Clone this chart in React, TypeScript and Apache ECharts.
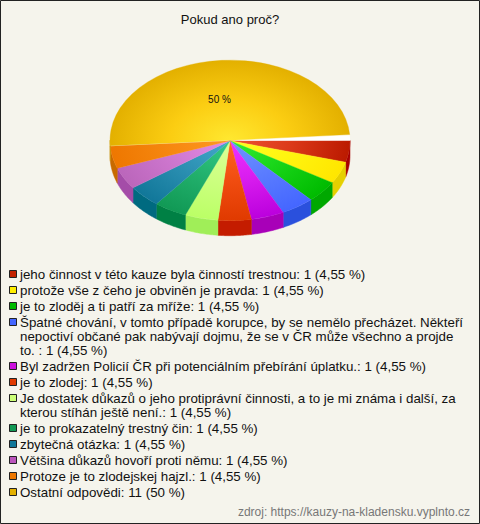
import React, { useEffect, useRef } from "react";
import * as echarts from "echarts";

const title = "Pokud ano proč?";
const source = "zdroj: https://kauzy-na-kladensku.vyplnto.cz";
const labels = [
  "jeho činnost v této kauze byla činností trestnou: 1 (4,55 %)",
  "protože vše z čeho je obviněn je pravda: 1 (4,55 %)",
  "je to zloděj a ti patří za mříže: 1 (4,55 %)",
  "Špatné chování, v tomto případě korupce, by se nemělo přecházet. Někteří\nnepoctiví občané pak nabývají dojmu, že se v ČR může všechno a projde\nto. : 1 (4,55 %)",
  "Byl zadržen Policií ČR při potenciálním přebírání úplatku.: 1 (4,55 %)",
  "je to zlodej: 1 (4,55 %)",
  "Je dostatek důkazů o jeho protiprávní činnosti, a to je mi známa i další, za\nkterou stíhán ještě není.: 1 (4,55 %)",
  "je to prokazatelný trestný čin: 1 (4,55 %)",
  "zbytečná otázka: 1 (4,55 %)",
  "Většina důkazů hovoří proti němu: 1 (4,55 %)",
  "Protoze je to zlodejskej hajzl.: 1 (4,55 %)",
  "Ostatní odpovědi: 11 (50 %)",
];
const values = [1, 1, 1, 1, 1, 1, 1, 1, 1, 1, 1, 11];
const inner = ["#ee5533", "#ffff22", "#33ee33", "#6f94ff", "#ee33ff", "#ff6622", "#ddff99", "#33cc88", "#44aacc", "#e48ce8", "#ff9922", "#ffe830"];
const middle = ["#dc3a1a", "#fff510", "#18d418", "#5a7cff", "#d81cee", "#f04c10", "#ccff80", "#22b06c", "#2c90b2", "#cf78d0", "#f68810", "#fbcd12"];
const outer = ["#bb1a00", "#ffe600", "#00bb00", "#4466ff", "#bb00dd", "#e03a00", "#bbff66", "#119955", "#117799", "#bb66bb", "#ee7700", "#e3b000"];
const sides = ["#a80000", "#e6d000", "#00a800", "#2a50dd", "#a800b8", "#c41c00", "#a0ee58", "#008044", "#006a80", "#a44ca8", "#c86a00", "#c89800"];
const legendFill = ["#c42200", "#ffee00", "#00bb00", "#4466ff", "#cc11dd", "#e03a00", "#ccff77", "#119955", "#117799", "#bb55bb", "#ee7700", "#e3b000"];

const cx = 230;
const cy = 140.7;
const rx = 120;
const ry = 80;
const depth = 15;
const startDeg = -0.5;
const gapDeg = 3.5;
const total = values.reduce((a, b) => a + b, 0);
const bigIndex = values.indexOf(Math.max(...values));

function sweep(i: number) {
  const full = (values[i] / total) * 360;
  return i === bigIndex ? full : full * (1 - gapDeg / 180);
}
function startOf(i: number) {
  let a = startDeg;
  for (let k = 0; k < i; k++) a += sweep(k);
  return a;
}
const rad = (d: number) => (d * Math.PI) / 180;

function renderSlice(i: number) {
  const from = startOf(i);
  const to = from + sweep(i);
  const a0 = Math.max(from, 0);
  const a1 = Math.min(to, 180);
  const children: any[] = [];
  const isBig = i === bigIndex;
  const oy = isBig ? -0.5 : 0;
  if (a1 > a0) {
    const top: number[][] = [];
    const bottom: number[][] = [];
    for (let a = a0; a <= a1 + 1e-6; a += (a1 - a0) / 24) {
      const px = cx + rx * Math.cos(rad(a));
      const py = cy + oy + ry * Math.sin(rad(a));
      top.push([px, py]);
      bottom.unshift([px, py + depth]);
    }
    children.push({
      type: "polygon",
      shape: { points: top.concat(bottom) },
      style: { fill: sides[i], stroke: sides[i], lineWidth: 0.5 },
    });
  }
  const grad = new echarts.graphic.RadialGradient(
    0, 0, rx,
    [
      { offset: 0, color: inner[i] },
      { offset: 0.5, color: middle[i] },
      { offset: 1, color: outer[i] },
    ],
    true
  );
  if (isBig) {
    children.push({
      type: "sector",
      x: cx,
      y: cy,
      scaleY: ry / rx,
      shape: { cx: 0, cy: 0, r: rx, r0: 0, startAngle: rad(to - 0.5), endAngle: rad(360 + startDeg + 0.5), clockwise: true },
      style: { fill: "#ffffff" },
    });
  }
  children.push({
    type: "sector",
    x: cx,
    y: cy + oy,
    scaleY: ry / rx,
    shape: { cx: 0, cy: 0, r: rx, r0: 0, startAngle: rad(from), endAngle: rad(to), clockwise: true },
    style: { fill: grad, stroke: grad, lineWidth: 0.4 },
  });
  if (isBig) {
    children.push({
      type: "text",
      style: {
        x: 219.5,
        y: 99.5,
        text: "50 %",
        fill: "#111111",
        font: "10px 'Liberation Sans'",
        align: "center",
        verticalAlign: "middle",
      },
    });
  }
  return { type: "group", children };
}

function legendGraphics() {
  const out: any[] = [];
  let y = 267;
  const rowGap = 2;
  const lineH = 14;
  labels.forEach((text, i) => {
    const n = text.split("\n").length;
    out.push({
      type: "rect",
      shape: { x: 9.5, y: y + 3.5, width: 7, height: 7 },
      style: { fill: legendFill[i], stroke: "#222222", lineWidth: 1 },
    });
    out.push({
      type: "text",
      style: {
        x: 20,
        y,
        text,
        fill: "#111111",
        font: "13.33px 'Liberation Sans'",
        lineHeight: lineH,
        align: "left",
        verticalAlign: "top",
      },
    });
    y += n * lineH + rowGap;
  });
  return out;
}

export default function App() {
  const ref = useRef<HTMLDivElement>(null);
  useEffect(() => {
    document.body.style.margin = "0";
    const chart = echarts.init(ref.current!, undefined, { renderer: "svg" });
    chart.setOption({
      animation: false,
      backgroundColor: "#f5f4ec",
      title: {
        text: title,
        left: 225,
        top: 8,
        textAlign: "center",
        textStyle: { fontFamily: "Liberation Sans", fontSize: 13, fontWeight: "normal", color: "#111111" },
      },
      graphic: [
        {
          type: "rect",
          shape: { x: 0.5, y: 0.5, width: 479, height: 523 },
          style: { fill: "none", stroke: "#222222", lineWidth: 1 },
          z: 0,
        },
        ...legendGraphics(),
        {
          type: "text",
          style: {
            x: 470,
            y: 511.5,
            text: source,
            fill: "#777777",
            font: "12px 'Liberation Sans'",
            align: "right",
            verticalAlign: "middle",
          },
        },
      ],
      series: [
        {
          type: "custom",
          coordinateSystem: "none",
          silent: true,
          data: values.map((v, i) => ({ value: [v], name: labels[i] })),
          renderItem: (params: any) => renderSlice(params.dataIndex),
        },
      ],
    });
    return () => chart.dispose();
  }, []);
  return <div ref={ref} style={{ position: "absolute", left: 0, top: 0, width: 480, height: 524 }} />;
}
